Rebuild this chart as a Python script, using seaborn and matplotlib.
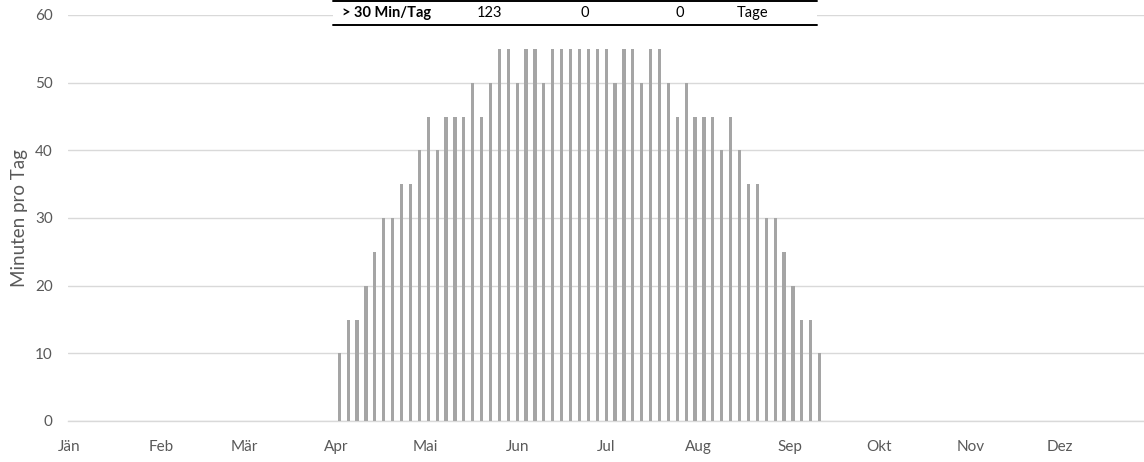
import matplotlib
matplotlib.use("Agg")
import matplotlib.pyplot as plt
from matplotlib.lines import Line2D
from matplotlib.patches import Rectangle
import seaborn as sns
import pandas as pd

# ---- data ----
dates = [
    "2023-04-02", "2023-04-05", "2023-04-08", "2023-04-11", "2023-04-14",
    "2023-04-17", "2023-04-20", "2023-04-23", "2023-04-26", "2023-04-29",
    "2023-05-02", "2023-05-05", "2023-05-08", "2023-05-11", "2023-05-14",
    "2023-05-17", "2023-05-20", "2023-05-23", "2023-05-26", "2023-05-29",
    "2023-06-01", "2023-06-04", "2023-06-07", "2023-06-10", "2023-06-13",
    "2023-06-16", "2023-06-19", "2023-06-22", "2023-06-25", "2023-06-28",
    "2023-07-01", "2023-07-04", "2023-07-07", "2023-07-10", "2023-07-13",
    "2023-07-16", "2023-07-19", "2023-07-22", "2023-07-25", "2023-07-28",
    "2023-07-31", "2023-08-03", "2023-08-06", "2023-08-09", "2023-08-12",
    "2023-08-15", "2023-08-18", "2023-08-21", "2023-08-24", "2023-08-27",
    "2023-08-30", "2023-09-02", "2023-09-05", "2023-09-08", "2023-09-11",
]
minutes = [
    10, 15, 15, 20, 25, 30, 30, 35, 35, 40,
    45, 40, 45, 45, 45, 50, 45, 50, 55, 55,
    50, 55, 55, 50, 55, 55, 55, 55, 55, 55,
    55, 50, 55, 55, 50, 55, 55, 50, 45, 50,
    45, 45, 45, 40, 45, 40, 35, 35, 30, 30,
    25, 20, 15, 15, 10,
]
month_starts = ["2023-01-01", "2023-02-01", "2023-03-01", "2023-04-01",
                "2023-05-01", "2023-06-01", "2023-07-01", "2023-08-01",
                "2023-09-01", "2023-10-01", "2023-11-01", "2023-12-01"]
month_labels = ["Jän", "Feb", "Mär", "Apr", "Mai", "Jun",
                "Jul", "Aug", "Sep", "Okt", "Nov", "Dez"]
table_label = "> 30 Min/Tag"
table_values = ["123", "0", "0"]
table_unit = "Tage"

# ---- styling ----
sns.set_theme(style="white")
plt.rcParams["font.family"] = ["Lato", "DejaVu Sans"]

W, H = 1144, 462
fig = plt.figure(figsize=(W / 100, H / 100), dpi=100)
left_px, right_px, top_px, bottom_px = 68, 1144, 15, 421
ax = fig.add_axes([left_px / W, 1 - bottom_px / H,
                   (right_px - left_px) / W, (bottom_px - top_px) / H])

df = pd.DataFrame({
    "day": pd.to_datetime(pd.Series(dates)).dt.dayofyear - 1,
    "min": minutes,
})
sns.barplot(data=df, x="day", y="min", native_scale=True, width=0.36,
            color="#A5A5A5", saturation=1, errorbar=None, ax=ax,
            edgecolor="none", linewidth=0, zorder=3)

month_pos = list(pd.to_datetime(pd.Series(month_starts)).dt.dayofyear - 1)
ax.set_xticks(month_pos)
ax.set_xticklabels(month_labels)
ax.set_xlim(-0.5, (right_px - left_px) / 2.965 - 0.5)
ax.set_ylim(0, 60)
ax.set_yticks(range(0, 61, 10))

ax.grid(axis="y", color="#D9D9D9", linewidth=1, zorder=0)
ax.grid(axis="x", visible=False)
for s in ["top", "right", "left"]:
    ax.spines[s].set_visible(False)
ax.spines["bottom"].set_color("#D9D9D9")
ax.spines["bottom"].set_linewidth(1)
ax.spines["bottom"].set_zorder(1)

ax.tick_params(axis="both", length=0, labelsize=11, labelcolor="#595959")
ax.tick_params(axis="y", pad=11)
ax.tick_params(axis="x", pad=14)
ax.set_xlabel("")
ax.set_ylabel("Minuten pro Tag", fontsize=13.5, color="#595959")
ax.yaxis.set_label_coords((28 - left_px) / (right_px - left_px), 0.5)

# ---- summary table on top ----
def fx(px):
    return px / W

def fy(py):
    return 1 - py / H

fig.add_artist(Rectangle((fx(333), fy(26)), fx(817) - fx(333), fy(0) - fy(26),
                         transform=fig.transFigure, facecolor="white",
                         edgecolor="none", zorder=5))
for yy in (0.8, 25.2):
    fig.add_artist(Line2D([fx(333), fx(817)], [fy(yy), fy(yy)],
                          transform=fig.transFigure, color="black",
                          linewidth=1.4, zorder=6))
ty = fy(13)
fig.text(fx(342), ty, table_label, ha="left", va="center", fontsize=10.5,
         fontweight="bold", color="black", zorder=7)
for xc, v in zip([490, 585, 680], table_values):
    fig.text(fx(xc), ty, v, ha="center", va="center", fontsize=10.5,
             color="black", zorder=7)
fig.text(fx(753), ty, table_unit, ha="center", va="center", fontsize=10.5,
         color="black", zorder=7)

fig.savefig("out.png", dpi=100)
